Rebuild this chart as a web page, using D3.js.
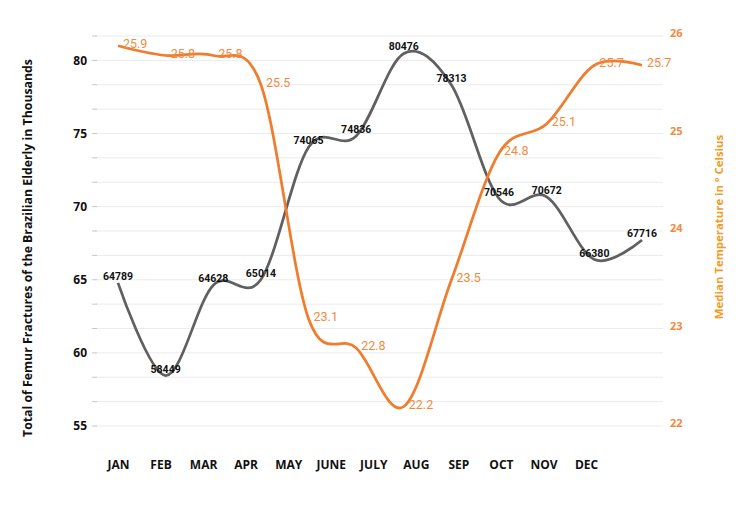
<!DOCTYPE html>
<html>
<head>
<meta charset="utf-8">
<script src="https://cdn.jsdelivr.net/npm/d3@7"></script>
<style>
  body { margin: 0; background: #fff; }
  svg { display: block; }
</style>
</head>
<body>
<svg width="750" height="509"></svg>
<script>
const months = ['JAN', 'FEB', 'MAR', 'APR', 'MAY', 'JUNE', 'JULY', 'AUG', 'SEP', 'OCT', 'NOV', 'DEC'];
const fractures = [64789, 58449, 64628, 65014, 74065, 74836, 80476, 78313, 70546, 70672, 66380, 67716];
const temperature = [25.9, 25.8, 25.8, 25.5, 23.1, 22.8, 22.2, 23.5, 24.8, 25.1, 25.7, 25.7];
const leftTicks = [55, 60, 65, 70, 75, 80];
const rightTicks = [22, 23, 24, 25, 26];

const grayColor = '#606060';
const orangeColor = '#f07c2e';
const orangeLabel = '#f28a3e';
const orangeTitle = '#f39a1f';

const plotTop = 36, plotBottom = 426;
const gridLeft = 95, gridRight = 663;

var svg = d3.select("svg");

// x: data points vs category labels (labels sit a bit tighter in the original)
var xData = d3.scalePoint().domain(months).range([118, 642]);
var xLabel = d3.scalePoint().domain(months).range([118, 586]);

var yLeft = d3.scaleLinear().domain([55, 55 + 16*5/3]).range([plotBottom, plotTop]);
var yRight = d3.scaleLinear().domain([22, 26]).range([plotBottom, plotTop]);

// gridlines every 1/4 degree on the right axis
var gridVals = d3.range(0, 17).map(function(i){ return 22 + i*0.25; });
svg.append("g")
   .selectAll("line")
   .data(gridVals)
   .enter().append("line")
     .attr("x1", gridLeft)
     .attr("x2", gridRight)
     .attr("y1", function(d){ return yRight(d); })
     .attr("y2", function(d){ return yRight(d); })
     .attr("stroke", "#ebebeb")
     .attr("stroke-width", 1);

// small tick marks on the left at every gridline
svg.append("g")
   .selectAll("line")
   .data(gridVals)
   .enter().append("line")
     .attr("x1", 92)
     .attr("x2", 97)
     .attr("y1", function(d){ return yRight(d); })
     .attr("y2", function(d){ return yRight(d); })
     .attr("stroke", "#c8c8c8");

// left axis labels
var leftAxis = d3.axisLeft(yLeft).tickValues(leftTicks).tickSize(0).tickPadding(0);
var gl = svg.append("g")
   .attr("transform", "translate(87,0)")
   .call(leftAxis);
gl.select(".domain").remove();
gl.selectAll(".tick text")
  .attr("font-family", "'Open Sans', sans-serif")
  .attr("font-weight", 700)
  .attr("font-size", 12)
  .attr("fill", "#111");

// right axis labels
var rightAxis = d3.axisRight(yRight).tickValues(rightTicks).tickFormat(d3.format("d")).tickSize(0).tickPadding(0);
var gr = svg.append("g")
   .attr("transform", "translate(670,-3)")
   .call(rightAxis);
gr.select(".domain").remove();
gr.selectAll(".tick text")
  .attr("font-family", "'Open Sans', sans-serif")
  .attr("font-weight", 700)
  .attr("font-size", 11)
  .attr("fill", orangeLabel);

// x axis labels
var xAxis = d3.axisBottom(xLabel).tickSize(0).tickPadding(0);
var gx = svg.append("g")
   .attr("transform", "translate(0,460)")
   .call(xAxis);
gx.select(".domain").remove();
gx.selectAll(".tick text")
  .attr("font-family", "'Open Sans', sans-serif")
  .attr("font-weight", 700)
  .attr("font-size", 12)
  .attr("fill", "#111");

// axis titles
svg.append("text")
   .attr("transform", "translate(31.5,248) rotate(-90)")
   .attr("text-anchor", "middle")
   .attr("font-family", "'Open Sans', sans-serif")
   .attr("font-weight", 700)
   .attr("font-size", 12.3)
   .attr("fill", "#111")
   .text("Total of Femur Fractures of the Brazilian Elderly in Thousands");

svg.append("text")
   .attr("transform", "translate(723,227) rotate(-90)")
   .attr("text-anchor", "middle")
   .attr("font-family", "'Open Sans', sans-serif")
   .attr("font-weight", 700)
   .attr("font-size", 11.4)
   .attr("fill", orangeTitle)
   .text("Median Temperature in º Celsius");

// lines
var grayLine = d3.line()
   .x(function(d, i){ return xData(months[i]); })
   .y(function(d){ return yLeft(d/1000); })
   .curve(d3.curveCardinal.tension(0));

var orangeLine = d3.line()
   .x(function(d, i){ return xData(months[i]); })
   .y(function(d){ return yRight(d); })
   .curve(d3.curveCardinal.tension(0));

svg.append("path")
   .datum(fractures)
   .attr("d", grayLine)
   .attr("fill", "none")
   .attr("stroke", grayColor)
   .attr("stroke-width", 2.75);

svg.append("path")
   .datum(temperature)
   .attr("d", orangeLine)
   .attr("fill", "none")
   .attr("stroke", orangeColor)
   .attr("stroke-width", 2.75);

// data labels
svg.append("g")
   .selectAll("text")
   .data(fractures)
   .enter().append("text")
     .attr("x", function(d, i){ return xData(months[i]); })
     .attr("y", function(d){ return yLeft(d/1000) - 3; })
     .attr("text-anchor", "middle")
     .attr("font-family", "Roboto, sans-serif")
     .attr("font-weight", 700)
     .attr("font-size", 10.5)
     .attr("fill", "#111")
     .text(function(d){ return d; });

svg.append("g")
   .selectAll("text")
   .data(temperature)
   .enter().append("text")
     .attr("x", function(d, i){ return xData(months[i]) + 5; })
     .attr("y", function(d){ return yRight(d) + 2; })
     .attr("font-family", "Roboto, sans-serif")
     .attr("font-size", 12.5)
     .attr("fill", orangeLabel)
     .text(function(d){ return d.toFixed(1); });
</script>
</body>
</html>
